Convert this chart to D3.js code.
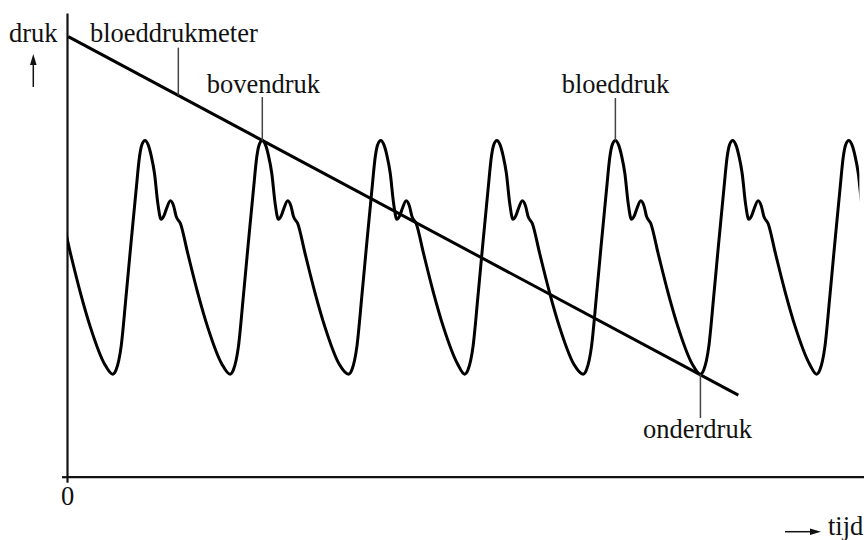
<!DOCTYPE html>
<html>
<head>
<meta charset="utf-8">
<script src="https://d3js.org/d3.v7.min.js"></script>
<style>
  body { margin: 0; background: #fff; }
  svg text { font-family: "Liberation Serif", "Times New Roman", serif; font-size: 26.5px; fill: #111; }
</style>
</head>
<body>
<svg id="chart" width="864" height="540"></svg>
<script>
// one heartbeat (phase in beats after the trough, pressure in arbitrary units)
var beatPhase    = [0, 0.028, 0.071, 0.113, 0.156, 0.199, 0.228, 0.247, 0.275, 0.303, 0.328, 0.356, 0.384, 0.412, 0.435, 0.454, 0.492, 0.520, 0.540, 0.577, 0.639, 0.725, 0.810, 0.930];
var beatPressure = [22.1, 23.0, 28.0, 38.8, 50.5, 61.8, 69.0, 71.5, 72.5, 71.5, 69.2, 65.4, 59.0, 55.5, 56.2, 57.5, 59.5, 58.3, 56.2, 54.6, 48.2, 39.6, 32.2, 24.3];

// times of the troughs (lowest points) of the wave
var troughTimes = [-0.61, 0.39, 1.39, 2.40, 3.39, 4.40, 5.40, 6.39];

// straight line of the cuff pressure (bloeddrukmeter)
var meterTime     = [0.011, 5.723];
var meterPressure = [94.9, 17.6];

var xMax = 6.8, tEnd = 6.755;

var svg = d3.select("#chart");

var x = d3.scaleLinear().domain([0, xMax]).range([67, 67 + xMax * 117.3]);
var y = d3.scaleLinear().domain([0, 100]).range([476.7, 13]);

// axes: only a "0" at the origin
svg.append("g")
    .attr("transform", "translate(0," + y(0) + ")")
    .call(d3.axisBottom(x).tickValues([0]).tickSize(6).tickSizeOuter(0).tickPadding(3).tickFormat(d3.format("d")))
    .call(function(g) {
      g.selectAll("path, line").attr("stroke", "#111").attr("stroke-width", 2.2);
      g.selectAll("text").attr("font-family", null).attr("font-size", null).attr("fill", null);
    });

svg.append("g")
    .attr("transform", "translate(" + x(0) + ",0)")
    .call(d3.axisLeft(y).tickValues([0]).tickSize(5).tickSizeOuter(0).tickFormat(""))
    .call(function(g) {
      g.selectAll("path, line").attr("stroke", "#111").attr("stroke-width", 2.2);
    });

// the pulse wave
var wave = [];
troughTimes.forEach(function(T) {
  beatPhase.forEach(function(ph, i) {
    wave.push({t: T + ph, p: beatPressure[i]});
  });
});

svg.append("clipPath").attr("id", "clip")
  .append("rect")
    .attr("x", x(0)).attr("y", 0)
    .attr("width", x(tEnd) - x(0)).attr("height", 540);

var line = d3.line()
    .x(function(d) { return x(d.t); })
    .y(function(d) { return y(d.p); })
    .curve(d3.curveMonotoneX);

svg.append("path")
    .datum(wave)
    .attr("clip-path", "url(#clip)")
    .attr("fill", "none")
    .attr("stroke", "#000")
    .attr("stroke-width", 3)
    .attr("stroke-linejoin", "round")
    .attr("d", line);

// meter line
var meter = meterTime.map(function(t, i) { return {t: t, p: meterPressure[i]}; });
svg.append("path")
    .datum(meter)
    .attr("fill", "none")
    .attr("stroke", "#000")
    .attr("stroke-width", 3)
    .attr("d", d3.line().x(function(d) { return x(d.t); }).y(function(d) { return y(d.p); }));

function meterAt(t) {
  var k = (t - meterTime[0]) / (meterTime[1] - meterTime[0]);
  return meterPressure[0] + k * (meterPressure[1] - meterPressure[0]);
}

// labels with leader lines
var peakIdx = beatPressure.indexOf(d3.max(beatPressure));
var peakPh = beatPhase[peakIdx], peakP = beatPressure[peakIdx];
var leaders = [
  {text: "bloeddrukmeter", tx: 90,    ty: 41.7,  lt: 0.949, y1: 47.7, y2: y(meterAt(0.949))},
  {text: "bovendruk",      tx: 206.7, ty: 92.5,  lt: troughTimes[2] + peakPh, y1: 97, y2: y(peakP)},
  {text: "bloeddruk",      tx: 561.7, ty: 93.3,  lt: troughTimes[5] + peakPh, y1: 98, y2: y(peakP)},
  {text: "onderdruk",      tx: 643,   ty: 438.3, lt: troughTimes[6], y1: y(beatPressure[0]), y2: 418}
];

leaders.forEach(function(d) {
  svg.append("line")
      .attr("x1", x(d.lt)).attr("x2", x(d.lt))
      .attr("y1", d.y1).attr("y2", d.y2)
      .attr("stroke", "#444").attr("stroke-width", 1.5);
  svg.append("text").attr("x", d.tx).attr("y", d.ty).text(d.text);
});

// axis titles with arrows
svg.append("text").attr("x", 9).attr("y", 41.7).text("druk");
svg.append("line").attr("x1", 33.3).attr("x2", 33.3).attr("y1", 87).attr("y2", 62)
    .attr("stroke", "#111").attr("stroke-width", 1.5);
svg.append("path").attr("d", "M33.3,54 L30,65 L36.6,65 Z").attr("fill", "#111");

svg.append("text").attr("x", 828).attr("y", 535).text("tijd");
svg.append("line").attr("x1", 785).attr("x2", 812).attr("y1", 531.7).attr("y2", 531.7)
    .attr("stroke", "#111").attr("stroke-width", 1.5);
svg.append("path").attr("d", "M821,531.7 L810,528.4 L810,535 Z").attr("fill", "#111");
</script>
</body>
</html>
